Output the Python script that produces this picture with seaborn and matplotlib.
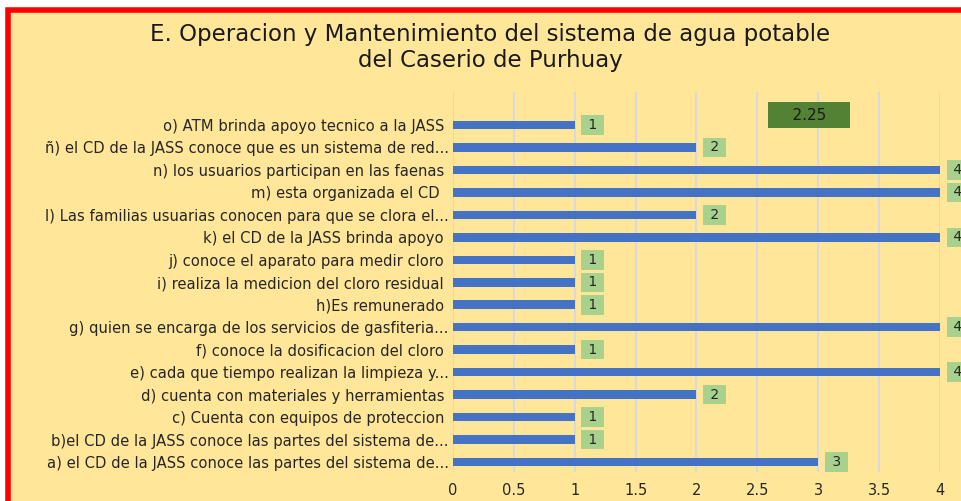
import matplotlib
matplotlib.use("Agg")
import matplotlib.pyplot as plt
from matplotlib.patches import Rectangle
import seaborn as sns
import pandas as pd

categories = [
    "o) ATM brinda apoyo tecnico a la JASS ",
    "ñ) el CD de la JASS conoce que es un sistema de red...",
    "n) los usuarios participan en las faenas ",
    "m) esta organizada el CD  ",
    "l) Las familias usuarias conocen para que se clora el...",
    "k) el CD de la JASS brinda apoyo ",
    "j) conoce el aparato para medir cloro ",
    "i) realiza la medicion del cloro residual ",
    "h)Es remunerado ",
    "g) quien se encarga de los servicios de gasfiteria...",
    "f) conoce la dosificacion del cloro ",
    "e) cada que tiempo realizan la limpieza y...",
    "d) cuenta con materiales y herramientas ",
    "c) Cuenta con equipos de proteccion ",
    "b)el CD de la JASS conoce las partes del sistema de...",
    "a) el CD de la JASS conoce las partes del sistema de...",
]
values = [1, 2, 4, 4, 2, 4, 1, 1, 1, 4, 1, 4, 2, 1, 1, 3]
x_ticks = [0, 0.5, 1, 1.5, 2, 2.5, 3, 3.5, 4]
title = "E. Operacion y Mantenimiento del sistema de agua potable\ndel Caserio de Purhuay"

df = pd.DataFrame({"item": categories, "valor": values})
promedio = sum(values) / len(values)

sns.set_theme(style="white")
plt.rcParams["font.family"] = ["DejaVu Sans"]

W, H = 962, 501
fig = plt.figure(figsize=(W / 100, H / 100), dpi=100, facecolor="white")

# chart area with red border (right/bottom edges run off the image)
fig.patches.append(Rectangle((8 / W, -0.1), 1.2, (H - 9.5) / H + 0.1,
                             transform=fig.transFigure, facecolor="#FFE699",
                             edgecolor="#FF0000", linewidth=4, zorder=-5))

ax = fig.add_axes([453 / W, 1 - 472 / H, (940 - 453) / W, (472 - 92) / H])
ax.set_zorder(2)
ax.set_facecolor("none")

sns.barplot(data=df, x="valor", y="item", orient="h", color="#4472C4",
            saturation=1, width=0.38, linewidth=0, ax=ax, zorder=3)

ax.set_xlim(0, 4)
ax.set_ylim(15.445, -1.47)
ax.set_xticks(x_ticks)
ax.set_xticklabels([f"{t:g}" for t in x_ticks], fontsize=10.5, color="#262626")
ax.tick_params(axis="x", length=0, pad=8)
ax.tick_params(axis="y", length=0, pad=3)
for lbl in ax.get_yticklabels():
    lbl.set_fontsize(10.6)
    lbl.set_color("#262626")
ax.set_xlabel("")
ax.set_ylabel("")
ax.grid(axis="x", color="#D9D9D9", linewidth=1.5, zorder=0)
for s in ax.spines.values():
    s.set_visible(False)

for i, v in enumerate(values):
    ax.annotate(f" {v:g} ", xy=(v, i), xytext=(13, 0), textcoords="offset points",
                ha="center", va="center", fontsize=10, color="#262626",
                bbox=dict(boxstyle="square,pad=0.2", facecolor="#A9D18E",
                          edgecolor="none"),
                annotation_clip=False, zorder=4)

ax.text(809 / W, 1 - 115 / H, f"    {promedio:.2f}    ", transform=fig.transFigure,
        ha="center", va="center", fontsize=11, color="#1a1a1a",
        bbox=dict(boxstyle="square,pad=0.33", facecolor="#548235",
                  edgecolor="none"),
        zorder=5)

fig.text(490 / W, 1 - 47.5 / H, title, ha="center", va="center", fontsize=16.5,
         color="#1a1a1a", linespacing=1.12)

fig.savefig("out.png", dpi=100, facecolor="white")
